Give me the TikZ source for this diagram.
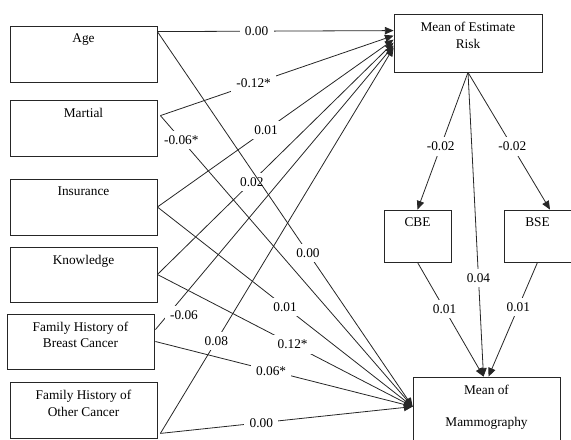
\documentclass[tikz,border=0pt]{standalone}
\usepackage{fontspec}
\setmainfont{Liberation Serif}
\usetikzlibrary{arrows.meta,calc}

\begin{document}
\begin{tikzpicture}[
    x=0.75pt, y=-0.75pt,
    every node/.style={font=\fontsize{10}{12}\selectfont},
    box/.style={draw=black!85, line width=0.6pt, minimum width=110.25pt, minimum height=42pt, inner sep=0pt},
    smallbox/.style={box, minimum width=50.25pt, minimum height=39pt},
    boxtext/.style={anchor=north, inner sep=1pt, align=center, yshift=-5pt},
    link/.style={draw=black!85, line width=0.6pt, -{Triangle[length=6.5pt,width=5.5pt]}},
    coef/.style={fill=white, inner xsep=4pt, inner ysep=3.5pt}
    ]
\useasboundingbox (0,0) rectangle (571,439);

% Predictors
\node[box] (age) at (83.5,54) {};
\node[boxtext] (age text) at (age.north) {Age};
\node[box] (mar) at (83.5,128) {};
\node[boxtext] (mar text) at (mar.north) {Martial};
\node[box] (ins) at (83.5,207) {};
\node[boxtext] (ins text) at (ins.north) {Insurance};
\node[box, minimum height=41.25pt] (kno) at (83.5,274.5) {};
\node[boxtext] (kno text) at (kno.north) {Knowledge};
\node[box, minimum height=41.25pt] (fhb) at (80.5,341.5) {};
\node[boxtext] (fhb text) at (fhb.north) {Family History of\\Breast Cancer};
\node[box] (fho) at (83.5,410) {};
\node[boxtext] (fho text) at (fho.north) {Family History of\\[0.6pt]Other Cancer};

% Outcomes
\node[box, minimum width=111pt, minimum height=43.5pt] (risk) at (468,43) {};
\node[boxtext] (risk text) at (risk.north) {Mean of Estimate\\[0.6pt]Risk};
\node[smallbox] (cbe) at (417.5,236) {};
\node[boxtext] (cbe text) at (cbe.north) {CBE};
\node[smallbox] (bse) at (537.5,236) {};
\node[boxtext] (bse text) at (bse.north) {BSE};
\node[box, minimum height=52.5pt] (mam) at (486.5,412) {};
\node[boxtext] (mam text) at (mam.north) {Mean of\\[12pt]Mammography};

% Paths to estimate risk
\draw[link] ($(age.north east)+(0,6)$) to node[coef, pos=0.42] (c1) {0.00} ($(risk.north west)+(0,17)$);
\draw[link] ($(mar.north east)+(3,16)$) to node[coef, pos=0.40] (c2) {-0.12*} ($(risk.north west)+(0,22)$);
\draw[link] (ins.east) to node[coef, pos=0.46] (c3) {0.01} ($(risk.north west)+(0,26)$);
\draw[link] (kno.east) to node[coef, pos=0.40] (c4) {0.02} ($(risk.north west)+(0,29)$);
\draw[link] ($(fhb.north east)+(1,16)$) to node[coef, pos=0.06, anchor=west, xshift=-4pt, yshift=-2pt] (c5) {-0.06} ($(risk.north west)+(0,32)$);
\draw[link] ($(fho.south east)+(3,-5)$) to node[coef, pos=0.24] (c6) {0.08} ($(risk.north west)+(0,34)$);

% Paths to mammography
\draw[link] ($(age.north east)+(0,6)$) to node[coef, pos=0.59] (d1) {0.00} ($(mam.north west)+(0,30)$);
\draw[link] ($(mar.north east)+(3,16)$) to node[coef, pos=0.083] (d2) {-0.06*} ($(mam.north west)+(0,30)$);
\draw[link] (ins.east) to node[coef, pos=0.50] (d3) {0.01} ($(mam.north west)+(0,30)$);
\draw[link] (kno.east) to node[coef, pos=0.53] (d4) {0.12*} ($(mam.north west)+(0,30)$);
\draw[link] ($(fhb.east)+(1,0)$) to node[coef, pos=0.45] (d5) {0.06*} ($(mam.north west)+(0,30)$);
\draw[link] ($(fho.south east)+(3,-5)$) to node[coef, pos=0.40] (d6) {0.00} ($(mam.north west)+(0,30)$);

% Risk, exams and mammography
\draw[link] (risk.south) to node[coef, pos=0.54] (e1) {-0.02} (cbe.north);
\draw[link] (risk.south) to node[coef, pos=0.54] (e2) {-0.02} ($(bse.north)+(12.5,0)$);
\draw[link] (risk.south) to node[coef, pos=0.675] (e3) {0.04} ($(mam.north)+(-3,0)$);
\draw[link] (cbe.south) to node[coef, pos=0.41] (e4) {0.01} ($(mam.north)+(-3,0)$);
\draw[link] (bse.south) to node[coef, pos=0.39] (e5) {0.01} ($(mam.north)+(2,0)$);

\end{tikzpicture}
\end{document}
